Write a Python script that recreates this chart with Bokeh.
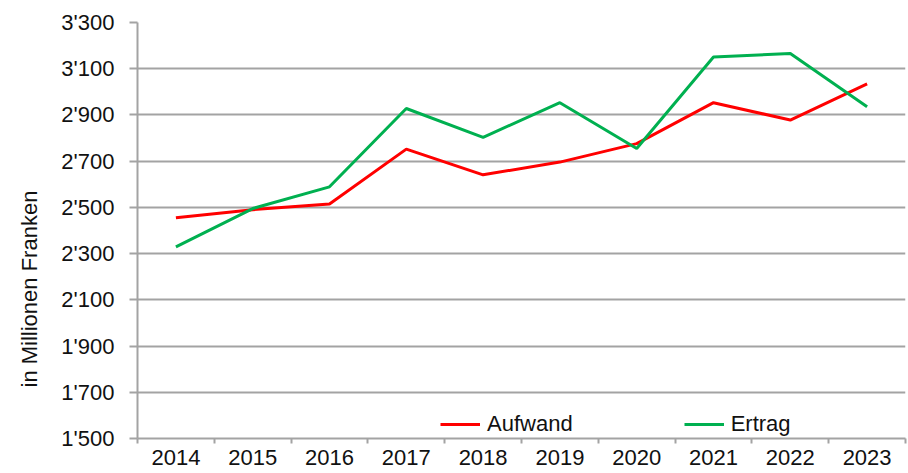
import numpy as np
from bokeh.plotting import figure
from bokeh.models import FixedTicker, Range1d, Legend, LegendItem, Title
from bokeh.embed import file_html
from bokeh.resources import INLINE

years = ["2014", "2015", "2016", "2017", "2018", "2019", "2020", "2021", "2022", "2023"]
aufwand = [2455, 2490, 2515, 2752, 2641, 2696, 2776, 2953, 2878, 3034]
ertrag = [2329, 2495, 2589, 2928, 2803, 2953, 2755, 3151, 3166, 2935]
y_ticks = [1500, 1700, 1900, 2100, 2300, 2500, 2700, 2900, 3100, 3300]
y_tick_labels = ["1'500", "1'700", "1'900", "2'100", "2'300", "2'500", "2'700", "2'900", "3'100", "3'300"]
y_title = "in Millionen Franken"

FONT = "Liberation Sans"
FS = "22px"
TXT = "#111111"
GRID = "#a3a3a3"

n = len(years)
xc = np.arange(n) + 0.5
bounds = list(np.arange(n + 1).astype(float))

p = figure(width=908, height=473, output_backend="svg", toolbar_location=None,
           x_range=Range1d(0, n), y_range=Range1d(y_ticks[0], y_ticks[-1]))
p.min_border_left = 137
p.min_border_right = 3
p.min_border_top = 22
p.min_border_bottom = 35
p.outline_line_color = None
p.background_fill_color = "white"
p.border_fill_color = "white"

# x axis
xa = p.xaxis[0]
xa.ticker = FixedTicker(ticks=list(xc), minor_ticks=bounds)
xa.major_label_overrides = {float(x): y for x, y in zip(xc, years)}
xa.major_tick_line_color = None
xa.minor_tick_line_color = GRID
xa.minor_tick_line_width = 2
xa.minor_tick_out = 5
xa.minor_tick_in = 0
xa.axis_line_color = GRID
xa.axis_line_width = 2
xa.major_label_standoff = 5
xa.major_label_text_font = FONT
xa.major_label_text_font_size = FS
xa.major_label_text_color = TXT

# y axis
ya = p.yaxis[0]
ya.ticker = FixedTicker(ticks=y_ticks, minor_ticks=[])
ya.major_label_overrides = {t: l for t, l in zip(y_ticks, y_tick_labels)}
ya.major_tick_line_color = GRID
ya.major_tick_line_width = 2
ya.major_tick_out = 8
ya.major_tick_in = 0
ya.axis_line_color = GRID
ya.axis_line_width = 2
ya.major_label_standoff = 15
ya.major_label_text_font = FONT
ya.major_label_text_font_size = FS
ya.major_label_text_color = TXT

# y title, placed lower than centre like the reference
t = Title(text=y_title, align="left", offset=51, standoff=30,
          vertical_align="top",
          text_font=FONT, text_font_size=FS, text_font_style="normal",
          text_color=TXT)
p.add_layout(t, "left")

p.xgrid.grid_line_color = None
p.ygrid.grid_line_color = GRID
p.ygrid.grid_line_width = 2
p.ygrid.ticker = FixedTicker(ticks=y_ticks)

r1 = p.line(xc, aufwand, line_color="#ff0000", line_width=3)
r2 = p.line(xc, ertrag, line_color="#00b050", line_width=3)

legend = Legend(items=[LegendItem(label="Aufwand", renderers=[r1]),
                       LegendItem(label="Ertrag", renderers=[r2])],
                orientation="horizontal", location=(303, 1),
                border_line_color=None, background_fill_alpha=0,
                padding=0, margin=0, spacing=111,
                glyph_width=40, glyph_height=20, label_standoff=7,
                label_text_font=FONT, label_text_font_size=FS,
                label_text_color=TXT)
p.add_layout(legend, "center")

open("out.html", "w").write(file_html(p, INLINE))
